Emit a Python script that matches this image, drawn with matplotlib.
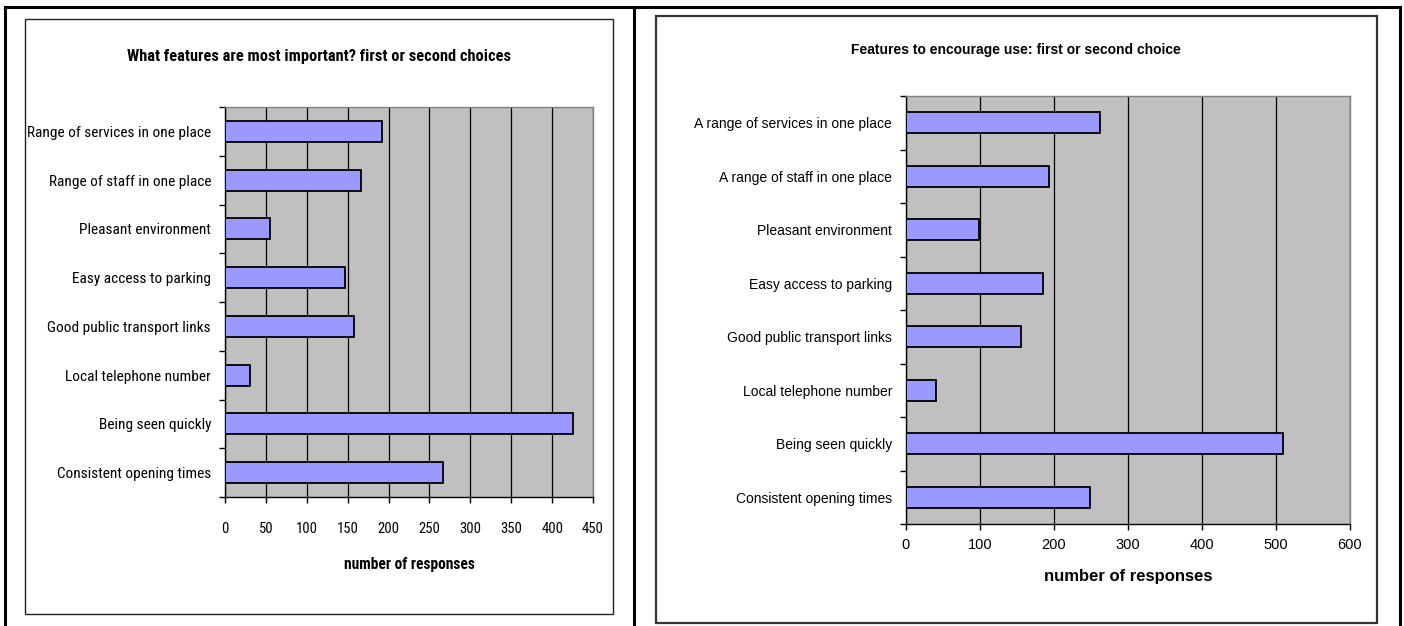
import matplotlib
matplotlib.use("Agg")
import matplotlib.pyplot as plt
from matplotlib.patches import Rectangle
from matplotlib import font_manager

W, H = 1404, 626

left_title = "What features are most important? first or second choices"
left_cats = ["Range of services in one place", "Range of staff in one place",
             "Pleasant environment", "Easy access to parking",
             "Good public transport links", "Local telephone number",
             "Being seen quickly", "Consistent opening times"]
left_vals = [192, 166, 55, 147, 158, 30, 425, 267]
left_ticks = [0, 50, 100, 150, 200, 250, 300, 350, 400, 450]

right_title = "Features to encourage use: first or second choice"
right_cats = ["A range of services in one place", "A range of staff in one place",
              "Pleasant environment", "Easy access to parking",
              "Good public transport links", "Local telephone number",
              "Being seen quickly", "Consistent opening times"]
right_vals = [262, 193, 98, 185, 155, 40, 509, 249]
right_ticks = [0, 100, 200, 300, 400, 500, 600]

xlabel = "number of responses"

names = {f.name for f in font_manager.fontManager.ttflist}
narrow = "Liberation Sans"
for cand in ["Liberation Sans Narrow", "Arial Narrow", "Roboto Condensed",
             "Archivo Narrow", "PT Sans Narrow"]:
    if cand in names:
        narrow = cand
        break
arial = "Liberation Sans"

fig = plt.figure(figsize=(W / 100, H / 100), dpi=100)
fig.patch.set_facecolor("white")


def px_rect(x0, y0, x1, y1):
    return [x0 / W, (H - y1) / H, (x1 - x0) / W, (y1 - y0) / H]


# outer table border and divider
for (x0, y0, x1, y1) in [(5, 7, 1400, 7), (5, 7, 5, 626), (1400, 7, 1400, 626), (634, 7, 634, 626)]:
    fig.add_artist(plt.Line2D([x0 / W, x1 / W], [(H - y0) / H, (H - y1) / H],
                              color="black", lw=2.2, transform=fig.transFigure))

# chart boxes
fig.add_artist(Rectangle((25 / W, (H - 614) / H), (613 - 25) / W, (614 - 19) / H,
                         transform=fig.transFigure, fill=False, ec="#222222", lw=1.0))
fig.add_artist(Rectangle((656 / W, (H - 623) / H), (1377 - 656) / W, (623 - 16) / H,
                         transform=fig.transFigure, fill=False, ec="#333333", lw=1.6))


def draw(ax, cats, vals, ticks, font, tick_fs, bar_h, title, title_xy, title_fs,
         xl_fs, xl_pad, xt_pad, xt_fs):
    n = len(cats)
    ypos = list(range(n))
    ax.set_facecolor("#C0C0C0")
    ax.barh(ypos, vals, height=bar_h, color="#9999FF", edgecolor="black", lw=1.3, zorder=3)
    ax.set_xlim(ticks[0], ticks[-1])
    ax.set_ylim(n - 0.5, -0.5)
    ax.set_xticks(ticks)
    ax.set_xticklabels([str(t) for t in ticks], fontsize=xt_fs, family=font)
    ax.set_yticks(ypos)
    ax.set_yticklabels(cats, fontsize=tick_fs, family=font)
    ax.tick_params(axis="y", length=0, pad=10)
    ax.set_yticks([i - 0.5 for i in range(n + 1)], minor=True)
    ax.tick_params(axis="y", which="minor", length=4, width=1, color="black")
    ax.tick_params(axis="x", length=4, width=1, color="black", pad=xt_pad)
    ax.grid(axis="x", color="black", lw=0.9, zorder=1)
    for s in ["top", "right"]:
        ax.spines[s].set_color("#808080")
        ax.spines[s].set_linewidth(1)
    for s in ["left", "bottom"]:
        ax.spines[s].set_color("black")
        ax.spines[s].set_linewidth(1)
    ax.set_xlabel(xlabel, fontsize=xl_fs, fontweight="bold", family=font, labelpad=xl_pad)
    fig.text(title_xy[0] / W, (H - title_xy[1]) / H, title, ha="center", va="center",
             fontsize=title_fs, fontweight="bold", family=font)


axL = fig.add_axes(px_rect(225, 107, 593, 497))
draw(axL, left_cats, left_vals, left_ticks, narrow, 11.1, 0.43, left_title, (319, 56), 11.8,
     11.2, 15, 14, 10.5)

axR = fig.add_axes(px_rect(906, 96, 1350, 524))
draw(axR, right_cats, right_vals, right_ticks, arial, 10, 0.4, right_title, (1016, 50), 10,
     12, 12, 6, 10.5)

fig.savefig("out.png", dpi=100, facecolor="white")
